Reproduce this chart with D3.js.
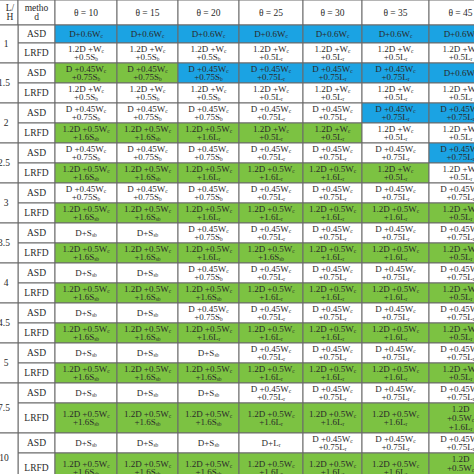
<!DOCTYPE html>
<html><head><meta charset="utf-8">
<script src="https://cdn.jsdelivr.net/npm/d3@7"></script>
<style>body{margin:0;background:#fff}svg{display:block}</style>
</head><body><svg id="c" width="474" height="474"></svg>
<script>
const thetas = ["θ = 10","θ = 15","θ = 20","θ = 25","θ = 30","θ = 35","θ = 45"];
const lhValues = ["1","1.5","2","2.5","3","3.5","4","4.5","5","7.5","10"];
const methods = ["ASD","LRFD"];
const formulas = {
  a:"D+0.6W_c", b:"1.2D +W_c|+0.5S_b", bL:"1.2D +W_c|+0.5L_r",
  c:"D +0.45W_c|+0.75S_b", cL:"D +0.45W_c|+0.75L_r",
  d:"1.2D +0.5W_c|+1.6S_sb", dL:"1.2D +0.5W_c|+1.6L_r",
  e:"D+S_sb", f:"D+L_r", dL3:"1.2D|+0.5W_c|+1.6L_r"
};
const cellCodes = [
 ["a","a","a","a","a","a","a"],
 ["b","b","b","bL","bL","bL","bL"],
 ["c","c","c","cL","cL","cL","a"],
 ["b","b","b","bL","bL","bL","bL"],
 ["c","c","c","cL","cL","cL","cL"],
 ["d","d","dL","bL","bL","bL","bL"],
 ["c","c","c","cL","cL","cL","cL"],
 ["d","d","dL","dL","dL","bL","bL"],
 ["c","c","c","cL","cL","cL","cL"],
 ["d","d","dL","dL","dL","dL","bL"],
 ["e","e","c","cL","cL","cL","cL"],
 ["d","d","dL","d","dL","dL","bL"],
 ["e","e","c","cL","cL","cL","cL"],
 ["d","d","d","dL","dL","dL","bL"],
 ["e","e","c","cL","cL","cL","cL"],
 ["d","d","dL","dL","dL","dL","bL"],
 ["e","e","e","cL","cL","cL","cL"],
 ["d","d","d","dL","dL","dL","bL"],
 ["e","e","e","cL","cL","cL","cL"],
 ["d","d","d","dL","dL","dL","dL3"],
 ["e","e","e","f","cL","cL","cL"],
 ["d","d","d","dL","dL","dL","dL3"]
];
const cellFill = [
 "BBBBBBB","WWWWWWW","GGBBBBB","WWWWWWW","WWWWWBB","GGGGGWW","WWWWWWB","GGGGGGW",
 "WWWWWWW","GGGGGGG","WWWWWWW","GGGGGGG","WWWWWWW","GGGGGGG","WWWWWWW","GGGGGGG",
 "WWWWWWW","GGGGGGG","WWWWWWW","GGGGGGG","WWWWWWW","GGGGGGG"
];
const colorMap = {B:"#1ba3e3", G:"#7cc242", W:"#ffffff"};

const svg = d3.select("#c");
const colEdges = [-14,18,55,117,178,239,303,362,429,492];
const rowEdges = [0,25,43,63,83,103,123,143,163,183,203,223,243,263,283,303,323,343,363,383,403,433,453,483];
const xCol = d3.scaleOrdinal().domain(d3.range(9)).range(colEdges.slice(0,9));
const wCol = i => colEdges[i+1]-colEdges[i];
const yRow = d3.scaleOrdinal().domain(d3.range(23)).range(rowEdges.slice(0,23));
const hRow = i => rowEdges[i+1]-rowEdges[i];
const font = "'Liberation Serif','Times New Roman',serif";
const stroke = "#6a6a6a";

function drawText(g, str, cx, cy, size){
  const lines = str.split("|");
  const lh = size*0.98;
  lines.forEach((ln,k)=>{
    const t = g.append("text").attr("x",cx).attr("y",cy+(k-(lines.length-1)/2)*lh)
      .attr("text-anchor","middle").attr("dominant-baseline","central")
      .attr("font-family",font).attr("font-size",size).attr("fill","#2a2a2a");
    let sub = false;
    ln.split(/(_[a-z]+)/).forEach(p=>{
      if(!p) return;
      if(p[0]==="_"){ t.append("tspan").attr("font-size",size*0.6).attr("dy",2).text(p.slice(1)); sub=true; }
      else { t.append("tspan").attr("dy",sub?-2:0).text(p); sub=false; }
    });
  });
}
const g = svg.append("g");
const hdr = ["L/|H","metho|d"].concat(thetas);
hdr.forEach((h,i)=>{
  g.append("rect").attr("x",xCol(i)).attr("y",0).attr("width",wCol(i)).attr("height",hRow(0))
   .attr("fill","#fff").attr("stroke",stroke);
  drawText(g,h,i===0? xCol(i)+wCol(i)-8 : xCol(i)+wCol(i)/2, hRow(0)/2, i<2?9.5:9.5);
});
cellCodes.forEach((row,r)=>{
  const y = yRow(r+1), h = hRow(r+1);
  g.append("rect").attr("x",xCol(1)).attr("y",y).attr("width",wCol(1)).attr("height",h)
   .attr("fill","#fff").attr("stroke",stroke);
  drawText(g,methods[r%2],xCol(1)+wCol(1)/2,y+h/2,9.5);
  row.forEach((code,c)=>{
    g.append("rect").attr("x",xCol(c+2)).attr("y",y).attr("width",wCol(c+2)).attr("height",h)
     .attr("fill",colorMap[cellFill[r][c]]).attr("stroke",stroke);
    drawText(g,formulas[code],xCol(c+2)+wCol(c+2)/2,y+h/2,9);
  });
});
lhValues.forEach((v,i)=>{
  const y0 = yRow(1+2*i), y1 = rowEdges[3+2*i];
  g.append("rect").attr("x",xCol(0)).attr("y",y0).attr("width",wCol(0)).attr("height",y1-y0)
   .attr("fill","#fff").attr("stroke",stroke);
  drawText(g,v,xCol(0)+wCol(0)-14+(v.length>1?0:2),(y0+y1)/2,9.5);
});
</script></body></html>
